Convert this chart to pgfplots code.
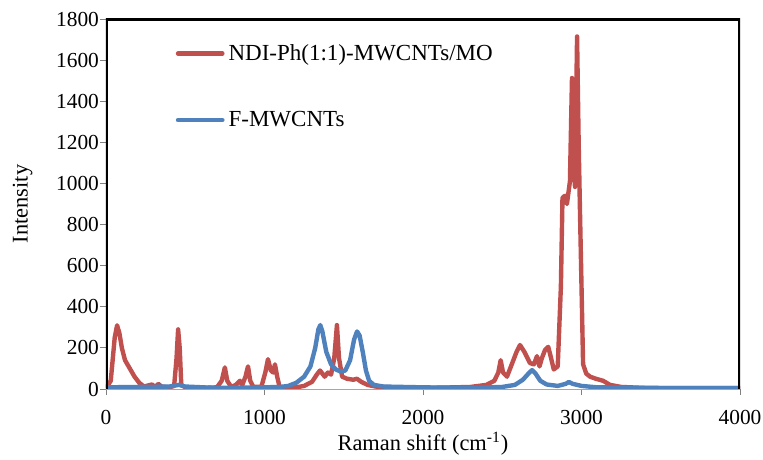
\documentclass[border=0pt]{standalone}
\usepackage{pgfplots}
\pgfplotsset{compat=1.18}
\usepackage{fontspec}
\setmainfont{Liberation Serif}
\definecolor{exred}{RGB}{192,80,77}
\definecolor{exblue}{RGB}{79,129,189}

\begin{document}
\begin{tikzpicture}
\begin{axis}[
  scale only axis,
  width=317pt, height=185pt,
  xmin=0, xmax=4000, ymin=0, ymax=1800,
  xtick={0,1000,...,4000}, ytick={0,200,...,1800},
  tick pos=left, tick align=outside,
  major tick length=3pt,
  tick style={gray, thin},
  axis line style={draw=none},
  /pgf/number format/assume math mode=true,
  /pgf/number format/1000 sep={},
  ticklabel style={font=\fontsize{10.7}{12}\selectfont},
  y tick label style={xshift=3pt},
  x tick label style={yshift=-4pt},
  label style={font=\fontsize{11.2}{13}\selectfont},
  xlabel={Raman shift (cm\textsuperscript{-1})},
  xlabel style={yshift=3pt},
  ylabel={Intensity},
  ylabel style={yshift=5pt},
  legend style={draw=none, fill=none, at={(0.1,0.955)}, anchor=north west,
    font=\fontsize{11.5}{13}\selectfont, row sep=20pt},
  legend cell align=left,
  legend image code/.code={\draw[#1, line width=2.2pt, line cap=round] (0cm,0cm) -- (0.78cm,0cm);},
]
\addplot[exred, line width=2.2pt, line join=round] coordinates {
(0,5) (30,40) (55,250) (70,310) (85,270) (100,200) (120,140) (150,100) (180,60)
(210,30) (240,12) (270,18) (290,22) (310,10) (330,25) (350,12) (400,8) (430,15)
(445,150) (455,290) (465,200) (475,20) (500,8) (600,5) (700,8) (730,40) (750,105)
(765,40) (790,10) (820,20) (845,40) (860,20) (880,60) (896,110) (910,40) (930,10)
(980,10) (1005,80) (1022,145) (1040,90) (1055,80) (1066,120) (1080,60) (1095,10)
(1200,8) (1250,15) (1300,35) (1330,70) (1350,90) (1380,60) (1400,80) (1420,70)
(1440,150) (1457,311) (1470,150) (1490,60) (1520,50) (1560,45) (1583,50) (1610,35)
(1650,20) (1700,12) (1800,8) (2000,5) (2200,8) (2300,10) (2400,20) (2450,40)
(2475,80) (2490,140) (2505,80) (2530,60) (2560,120) (2590,180) (2612,214) (2640,180)
(2675,126) (2700,120) (2719,160) (2735,110) (2750,150) (2770,190) (2790,205)
(2805,160) (2825,95) (2850,110) (2870,500) (2880,930) (2895,940) (2908,900)
(2927,1010) (2940,1513) (2950,1100) (2959,983) (2972,1715) (2982,1200) (2991,840)
(3000,500) (3010,120) (3030,75) (3054,60) (3090,50) (3136,40) (3180,20) (3250,10)
(3400,5) (4000,5)
};
\addlegendentry{NDI-Ph(1:1)-MWCNTs/MO}
\addplot[exblue, line width=2.2pt, line join=round] coordinates {
(0,8) (200,10) (400,12) (460,20) (500,12) (700,5) (1000,8) (1100,10) (1150,15)
(1200,30) (1250,60) (1290,110) (1320,200) (1340,290) (1352,311) (1365,280)
(1390,180) (1420,120) (1450,95) (1480,85) (1510,90) (1540,140) (1565,240)
(1584,280) (1600,260) (1620,180) (1640,90) (1660,40) (1690,20) (1750,12) (2000,8)
(2300,5) (2500,10) (2580,20) (2630,45) (2665,75) (2688,92) (2710,75) (2740,40)
(2780,22) (2850,15) (2900,25) (2920,34) (2945,25) (3000,15) (3100,8) (3500,5) (4000,5)
};
\addlegendentry{F-MWCNTs}
\draw[gray!70, thin] (rel axis cs:0,0) -- (rel axis cs:1,0);
\draw[black, line width=2pt] (rel axis cs:0,0) -- (rel axis cs:0,1) -- (rel axis cs:1,1) -- (rel axis cs:1,0);
\coordinate (O) at (rel axis cs:0,0);
\end{axis}
\pgfresetboundingbox
\path (O) ++(-53pt,-35pt) rectangle ++(381.5pt,229.5pt);
\end{tikzpicture}
\end{document}
